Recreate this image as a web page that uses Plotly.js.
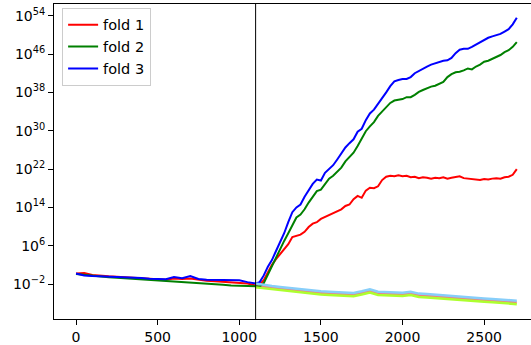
<!DOCTYPE html>
<html>
<head>
<meta charset="utf-8">
<script src="https://cdn.plot.ly/plotly-3.0.1.min.js"></script>
<style>
  html, body { margin: 0; padding: 0; background: #fff; }
  #chart { width: 531px; height: 345px; }
</style>
</head>
<body>
<div id="chart"></div>
<script>
// Training steps: first phase sampled every 50, second phase every 25
const stepsA = [0, 50, 100, 150, 200, 250, 300, 350, 400, 450, 500, 550, 600, 650, 700, 750, 800, 850, 900, 950, 1000, 1050];
const stepsB = [1100, 1125, 1150, 1175, 1200, 1225, 1250, 1275, 1300, 1325, 1350, 1375, 1400, 1425, 1450, 1475,
  1500, 1525, 1550, 1575, 1600, 1625, 1650, 1675, 1700, 1725, 1750, 1775, 1800, 1825, 1850, 1875,
  1900, 1925, 1950, 1975, 2000, 2025, 2050, 2075, 2100, 2125, 2150, 2175, 2200, 2225, 2250, 2275,
  2300, 2325, 2350, 2375, 2400, 2425, 2450, 2475, 2500, 2525, 2550, 2575, 2600, 2625, 2650, 2675, 2700];
// Held-out curves, sampled every 50 from the switch point
const stepsVal = [1100, 1150, 1200, 1250, 1300, 1350, 1400, 1450, 1500, 1550, 1600, 1650, 1700, 1750, 1800, 1850,
  1900, 1950, 2000, 2050, 2100, 2150, 2200, 2250, 2300, 2350, 2400, 2450, 2500, 2550, 2600, 2650, 2700];

const switchStep = 1100;

// log10 of the loss per fold
const fold1A = [0.2, 0.3, -0.1, -0.3, -0.4, -0.5, -0.6, -0.7, -0.8, -0.9, -1.0, -1.1, -0.85, -0.95, -0.85, -1.1, -1.3, -1.4, -1.5, -1.6, -1.7, -1.9];
const fold2A = [0.1, -0.1, -0.3, -0.45, -0.6, -0.7, -0.8, -0.9, -1.05, -1.2, -1.35, -1.45, -1.55, -1.6, -1.7, -1.85, -1.95, -2.05, -2.15, -2.3, -2.4, -2.5];
const fold3A = [0.2, -0.2, -0.35, -0.4, -0.5, -0.55, -0.6, -0.7, -0.75, -0.9, -1.0, -1.0, -0.55, -0.8, -0.35, -0.95, -1.1, -1.15, -1.25, -1.2, -1.2, -1.6];

const fold1B = [-2.3, -2.1, -1.2, 0.5, 2.0, 3.2, 4.3, 5.4, 6.3, 7.8, 8.1, 8.3, 8.9, 9.9, 10.6, 10.9,
  11.6, 12.0, 12.4, 12.7, 13.2, 13.6, 14.3, 14.6, 15.7, 16.4, 16.0, 17.5, 18.1, 18.0, 18.4, 19.7,
  20.4, 20.6, 20.5, 20.7, 20.5, 20.6, 20.3, 20.4, 20.1, 20.3, 20.2, 20.0, 20.2, 20.1, 20.3, 20.0,
  20.2, 20.3, 20.5, 20.1, 20.0, 19.8, 19.8, 19.7, 19.9, 19.8, 20.0, 20.1, 20.0, 20.3, 20.4, 20.8, 22.0];
const fold2B = [-2.6, -2.5, -1.8, 0.0, 1.6, 3.3, 5.1, 7.0, 8.6, 10.4, 11.9, 12.5, 13.6, 15.0, 16.2, 17.4,
  17.7, 18.9, 20.0, 20.6, 21.4, 22.3, 23.6, 24.4, 25.4, 26.8, 28.4, 29.9, 30.9, 31.8, 33.1, 34.0,
  35.0, 35.8, 36.3, 36.5, 36.6, 37.0, 37.0, 37.5, 38.1, 38.5, 38.9, 39.2, 39.4, 39.8, 40.2, 41.2,
  41.8, 42.2, 42.3, 42.6, 43.0, 42.8, 43.4, 43.8, 44.4, 44.6, 45.0, 45.5, 45.8, 46.4, 46.8, 47.5, 48.5];
const fold3B = [-1.9, -1.6, -0.2, 1.6, 3.0, 4.9, 6.6, 8.6, 10.9, 13.0, 14.0, 14.6, 16.2, 17.6, 18.9, 19.8,
  19.6, 21.2, 22.1, 22.8, 24.0, 25.2, 26.5, 27.4, 28.2, 29.8, 30.4, 32.2, 33.6, 34.4, 35.6, 36.6,
  38.0, 39.3, 40.3, 40.6, 40.8, 40.8, 41.2, 42.0, 42.5, 43.0, 43.4, 43.8, 44.1, 44.3, 44.6, 44.7,
  45.2, 46.2, 46.9, 47.1, 47.1, 47.5, 48.0, 48.4, 49.0, 49.4, 49.7, 50.0, 50.2, 50.7, 51.2, 52.2, 53.6];

const val1 = [-2.3, -2.55, -2.75, -2.95, -3.15, -3.35, -3.55, -3.7, -3.85, -3.95, -4.05, -4.15, -4.2, -3.85, -3.45, -3.95,
  -4.05, -4.15, -4.15, -3.95, -4.35, -4.45, -4.6, -4.7, -4.75, -4.95, -5.05, -5.2, -5.35, -5.45, -5.6, -5.7, -5.85];
const val2 = [-2.7, -2.9, -3.1, -3.3, -3.5, -3.7, -3.9, -4.05, -4.2, -4.3, -4.4, -4.5, -4.55, -4.2, -3.8, -4.3,
  -4.4, -4.5, -4.5, -4.3, -4.7, -4.8, -4.95, -5.05, -5.1, -5.3, -5.4, -5.55, -5.7, -5.8, -5.95, -6.05, -6.2];
const val3 = [-1.9, -2.2, -2.4, -2.6, -2.8, -3.0, -3.2, -3.35, -3.5, -3.6, -3.7, -3.8, -3.85, -3.5, -3.1, -3.6,
  -3.7, -3.8, -3.8, -3.6, -4.0, -4.1, -4.25, -4.35, -4.4, -4.6, -4.7, -4.85, -5.0, -5.1, -5.25, -5.35, -5.5];

const foldNames = ['fold 1', 'fold 2', 'fold 3'];
const foldColors = ['#ff0000', '#008000', '#0000ff'];
const valColors = ['#f08080', '#adff2f', '#87cefa'];

const yTickExp = [-2, 6, 14, 22, 30, 38, 46, 54];
const xTicks = [0, 500, 1000, 1500, 2000, 2500];

const pow10 = a => a.map(e => Math.pow(10, e));
const trainA = [fold1A, fold2A, fold3A];
const trainB = [fold1B, fold2B, fold3B];
const vals = [val1, val2, val3];

const traces = [];
for (let i = 0; i < 3; i++) {
  traces.push({
    x: stepsA.concat(stepsB),
    y: pow10(trainA[i].concat(trainB[i])),
    mode: 'lines', type: 'scatter', name: foldNames[i],
    line: { color: foldColors[i], width: 2 }
  });
  traces.push({
    x: stepsVal, y: pow10(vals[i]),
    mode: 'lines', type: 'scatter', showlegend: false,
    line: { color: valColors[i], width: 2.5 }
  });
}

const font = { family: 'DejaVu Sans', size: 14, color: '#000' };

const layout = {
  width: 531, height: 345,
  margin: { l: 54, r: 0, t: 4, b: 26 },
  paper_bgcolor: '#fff', plot_bgcolor: '#fff',
  font: font,
  showlegend: true,
  legend: {
    x: 0.017, y: 0.988, xanchor: 'left', yanchor: 'top',
    bgcolor: 'rgba(255,255,255,0.8)', bordercolor: '#cccccc', borderwidth: 1,
    font: { family: 'DejaVu Sans', size: 14.5, color: '#000' }, tracegroupgap: 0,
    itemwidth: 30
  },
  xaxis: {
    range: [-135, 2787], tickmode: 'array', tickvals: xTicks,
    showgrid: false, zeroline: false,
    showline: true, linecolor: '#000', linewidth: 1, mirror: true,
    ticks: 'outside', ticklen: 5, tickcolor: '#000', tickwidth: 1,
    tickfont: font
  },
  yaxis: {
    type: 'log', range: [-9.3, 56.45],
    tickmode: 'array',
    tickvals: yTickExp.map(e => Math.pow(10, e)),
    ticktext: yTickExp.map(e => '10<sup>' + String(e).replace('-', '\u2212') + '</sup>'),
    showgrid: false, zeroline: false,
    showline: true, linecolor: '#000', linewidth: 1,
    ticks: 'outside', ticklen: 5, tickcolor: '#000', tickwidth: 1,
    tickfont: font
  },
  shapes: [{
    type: 'line', xref: 'x', yref: 'paper',
    x0: switchStep, x1: switchStep, y0: 0, y1: 1,
    line: { color: '#000', width: 1 }
  }]
};

Plotly.newPlot('chart', traces, layout, { displayModeBar: false, staticPlot: true });
</script>
</body>
</html>
